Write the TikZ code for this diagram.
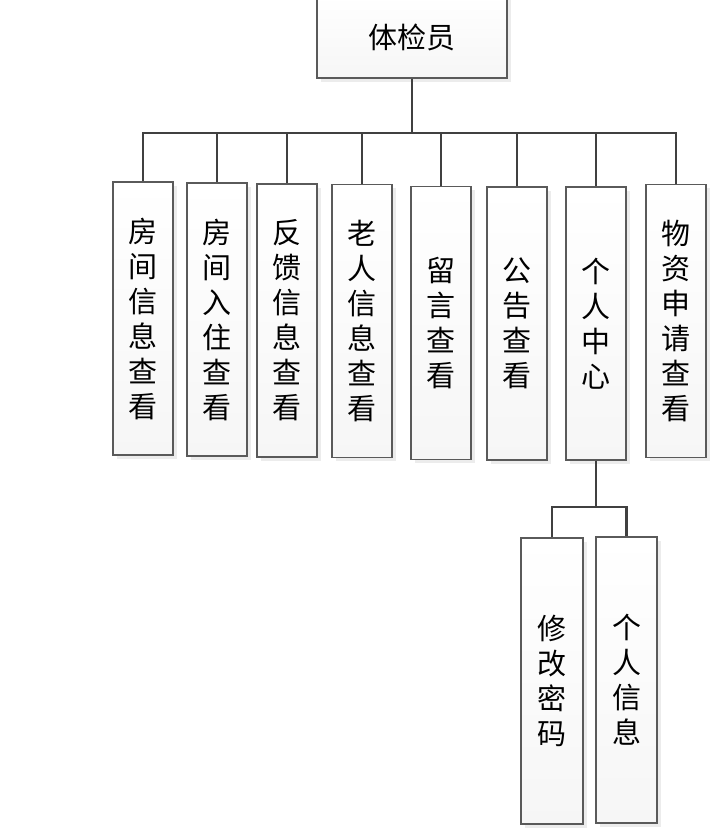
\documentclass[tikz,border=0pt]{standalone}
\usepackage{fontspec}
\setmainfont{Noto Sans CJK SC}
\usetikzlibrary{shadows}

\definecolor{edge}{HTML}{404040}
\definecolor{frame}{HTML}{5A5A5A}

\begin{document}
\begin{tikzpicture}[x=1pt, y=-1pt, line join=miter,
      box/.style={draw=frame, line width=1.2pt, top color=white, bottom color=gray!7,
                  minimum width=60pt, minimum height=273pt, inner sep=0pt,
                  align=center, font=\fontsize{29}{35}\selectfont,
                  drop shadow={shadow xshift=3.5pt, shadow yshift=-3.5pt, fill=gray!15, opacity=1}},
      link/.style={draw=edge, line width=2.1pt}]

    \useasboundingbox (0,0) rectangle (715,833);

    % === root ===
    \node[box, minimum width=190pt, minimum height=82pt] (root) at (412,37) {体检员};

    % === first level ===
    \node[box] (fjxx) at (143,318.5) {房\\间\\信\\息\\查\\看};
    \node[box] (fjrz) at (217,319.5) {房\\间\\入\\住\\查\\看};
    \node[box] (fkxx) at (287,320.5) {反\\馈\\信\\息\\查\\看};
    \node[box] (lrxx) at (362,321)   {老\\人\\信\\息\\查\\看};
    \node[box] (lyck) at (441,323)   {留\\言\\查\\看};
    \node[box] (ggck) at (517,323.5) {公\\告\\查\\看};
    \node[box] (grzx) at (596,323.5) {个\\人\\中\\心};
    \node[box] (wzsq) at (676,321)   {物\\资\\申\\请\\查\\看};

    % === second level ===
    \node[box, minimum width=62pt, minimum height=286pt] (xgmm) at (552,681) {修\\改\\密\\码};
    \node[box, minimum width=61pt, minimum height=286pt] (grxx) at (626.5,680) {个\\人\\信\\息};

    % === links ===
    \coordinate (bar) at (root.south |- 0,133);
    \draw[link] (root.south) -- (bar);
    \foreach \c in {fjxx, fjrz, fkxx, lrxx, lyck, ggck, grzx, wzsq}
      \draw[link] (bar) -| (\c.north);

    \coordinate (sub) at (grzx.south |- 0,507);
    \draw[link] (grzx.south) -- (sub);
    \draw[link] (sub) -| (xgmm.north);
    \draw[link] (sub) -| (grxx.north);

\end{tikzpicture}
\end{document}
